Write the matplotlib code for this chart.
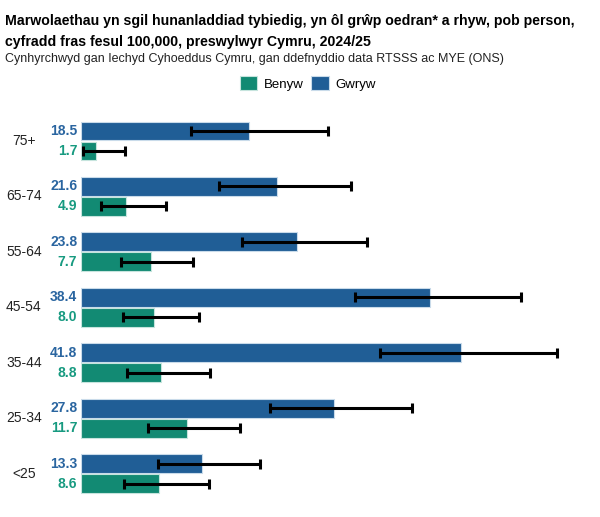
import numpy as np
import matplotlib.pyplot as plt

plt.rcParams['font.family'] = ['Liberation Sans', 'DejaVu Sans']

# data
age_groups = ['75+', '65-74', '55-64', '45-54', '35-44', '25-34', '<25']
gwryw = [18.5, 21.6, 23.8, 38.4, 41.8, 27.8, 13.3]
gwryw_lo = [12.1, 15.2, 17.7, 30.1, 32.9, 20.8, 8.5]
gwryw_hi = [27.2, 29.7, 31.5, 48.4, 52.4, 36.4, 19.7]
benyw = [1.7, 4.9, 7.7, 8.0, 8.8, 11.7, 8.6]
benyw_lo = [0.2, 2.2, 4.4, 4.6, 5.1, 7.4, 4.7]
benyw_hi = [4.8, 9.4, 12.3, 13.0, 14.2, 17.5, 14.1]

blue = '#205e96'
green = '#128a73'
blue_txt = '#2a65a0'
green_txt = '#179a80'

fig = plt.figure(figsize=(6, 5.17), dpi=100)
ax = fig.add_axes([0.135, 0.03, 0.833, 0.751])

y = np.arange(len(age_groups))
h = 0.34
ym = y - h / 2 - 0.01
yf = y + h / 2 + 0.01

m_err = [np.array(gwryw) - np.array(gwryw_lo), np.array(gwryw_hi) - np.array(gwryw)]
f_err = [np.array(benyw) - np.array(benyw_lo), np.array(benyw_hi) - np.array(benyw)]

ax.barh(ym, gwryw, h, color=blue, edgecolor='#c9dbea', linewidth=0.8, label='Gwryw')
ax.barh(yf, benyw, h, color=green, edgecolor='#c6e4dd', linewidth=0.8, label='Benyw')
ax.errorbar(gwryw, ym, xerr=m_err, fmt='none', ecolor='black', elinewidth=2.2,
            capsize=3.5, capthick=2.2)
ax.errorbar(benyw, yf, xerr=f_err, fmt='none', ecolor='black', elinewidth=2.2,
            capsize=3.5, capthick=2.2)

for i in range(len(age_groups)):
    ax.text(-0.4, ym[i], f'{gwryw[i]:.1f}', ha='right', va='center',
            fontsize=10, fontweight='bold', color=blue_txt)
    ax.text(-0.4, yf[i], f'{benyw[i]:.1f}', ha='right', va='center',
            fontsize=10, fontweight='bold', color=green_txt)
    ax.text(-6.3, y[i], age_groups[i], ha='center', va='center',
            fontsize=10, color='#222222')

ax.set_xlim(0, 55)
ax.set_ylim(6.5, -0.5)
ax.set_xticks([])
ax.set_yticks([])
for s in ax.spines.values():
    s.set_visible(False)

fig.text(0.008, 0.96, 'Marwolaethau yn sgil hunanladdiad tybiedig, yn ôl grŵp oedran* a rhyw, pob person,',
         fontsize=10.15, fontweight='bold', va='center')
fig.text(0.008, 0.918, 'cyfradd fras fesul 100,000, preswylwyr Cymru, 2024/25',
         fontsize=10.15, fontweight='bold', va='center')
fig.text(0.008, 0.886, 'Cynhyrchwyd gan Iechyd Cyhoeddus Cymru, gan ddefnyddio data RTSSS ac MYE (ONS)',
         fontsize=9.0, va='center', color='#222222')

handles, labels = ax.get_legend_handles_labels()
fig.legend(handles[::-1], labels[::-1], loc='center', bbox_to_anchor=(0.513, 0.839),
           ncol=2, frameon=False, fontsize=9.5, handlelength=1.3, handleheight=1.3,
           columnspacing=0.6, handletextpad=0.5)

fig.savefig('out.png', dpi=100)
